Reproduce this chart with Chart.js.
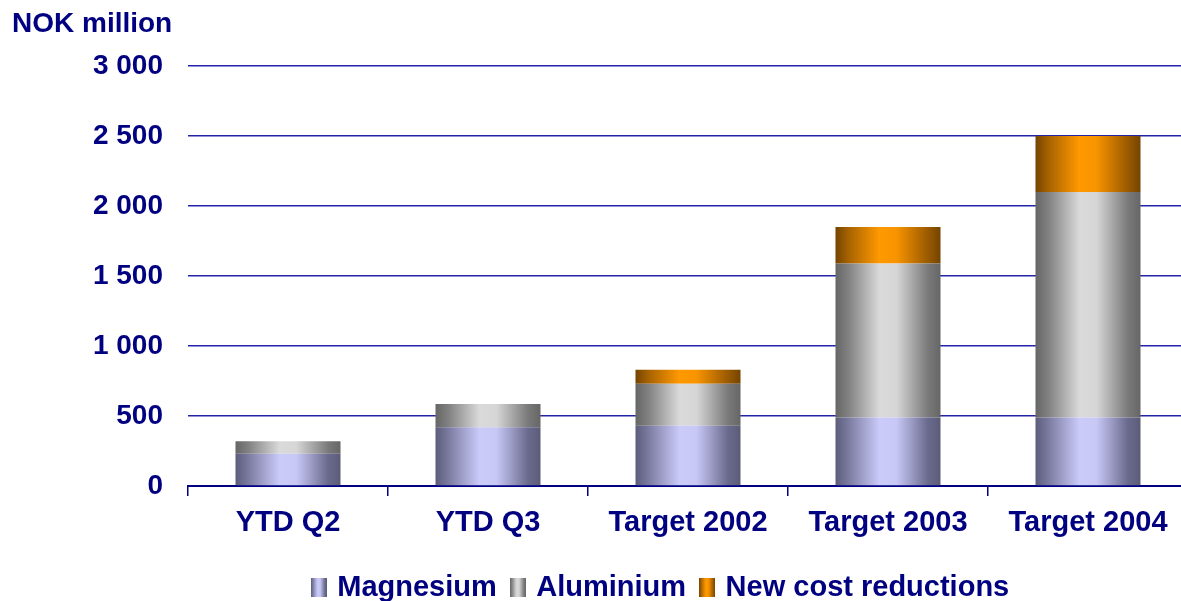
<!DOCTYPE html>
<html>
<head>
<meta charset="utf-8">
<title>Cost reductions</title>
<script src="https://cdn.jsdelivr.net/npm/chart.js@4/dist/chart.umd.min.js"></script>
<style>
    html, body { margin: 0; padding: 0; overflow: hidden; background: #fff; }
    #wrap { position: relative; width: 1312px; height: 612px; }
</style>
</head>
<body>
<div id="wrap"><canvas id="costs"></canvas></div>
<script>
    var categories = ['YTD Q2', 'YTD Q3', 'Target 2002', 'Target 2003', 'Target 2004'];
    var magnesium = [230, 420, 430, 490, 490];
    var aluminium = [90, 165, 300, 1100, 1610];
    var newCost = [0, 0, 100, 260, 400];
    var yTicks = [0, 500, 1000, 1500, 2000, 2500, 3000];

    var NAVY = '#000080';
    var FONT = "'Liberation Sans', Arial, sans-serif";
    var BAR_PCT = 0.525;

    // dark edge -> light middle -> dark edge, like a lit cylinder
    var shades = {
        magnesium: ['#5c5c7a', '#7a7aa0', '#cbcbfa', '#c8c8f6', '#6a6a8e', '#5c5c78'],
        aluminium: ['#666666', '#808080', '#dadada', '#d6d6d6', '#7a7a7a', '#666666'],
        newCost:   ['#744400', '#a66200', '#ff9900', '#f89400', '#9a5a00', '#744400']
    };
    var stopPos = [0, 0.12, 0.42, 0.58, 0.88, 1];

    function addStops(g, cols) {
        for (var i = 0; i < cols.length; i++) g.addColorStop(stopPos[i], cols[i]);
        return g;
    }

    function barFill(cols) {
        return function (ctx) {
            var chart = ctx.chart;
            var x = chart.scales.x;
            if (!x || ctx.dataIndex === undefined || !x.width) return cols[2];
            var mid = x.getPixelForValue(ctx.dataIndex);
            var half = x.width / categories.length * BAR_PCT / 2;
            var g = chart.ctx.createLinearGradient(mid - half, 0, mid + half, 0);
            return addStops(g, cols);
        };
    }

    function legendSwatch(cols) {
        var c = document.createElement('canvas');
        c.width = 16;
        c.height = 19;
        var cx = c.getContext('2d');
        cx.fillStyle = addStops(cx.createLinearGradient(0, 0, 16, 0), cols);
        cx.fillRect(0, 0, 16, 19);
        return c;
    }
    var swatches = [legendSwatch(shades.magnesium), legendSwatch(shades.aluminium), legendSwatch(shades.newCost)];

    function spaced(v) {
        return String(v).replace(/\B(?=(\d{3})+(?!\d))/g, ' ');
    }

    new Chart(document.getElementById('costs'), {
        type: 'bar',
        data: {
            labels: categories,
            datasets: [
                { label: 'Magnesium', data: magnesium, backgroundColor: barFill(shades.magnesium) },
                { label: 'Aluminium', data: aluminium, backgroundColor: barFill(shades.aluminium) },
                { label: 'New cost reductions', data: newCost, backgroundColor: barFill(shades.newCost) }
            ]
        },
        options: {
            responsive: true,
            maintainAspectRatio: false,
            animation: false,
            barPercentage: BAR_PCT,
            categoryPercentage: 1,
            borderWidth: 0,
            layout: { padding: { left: 12, right: 0, top: 0, bottom: 0 } },
            plugins: {
                tooltip: { enabled: false },
                title: {
                    display: true,
                    text: 'NOK million',
                    align: 'start',
                    color: NAVY,
                    font: { family: FONT, size: 28, weight: 'bold' },
                    padding: { top: 7, bottom: 25.4 }
                },
                legend: {
                    position: 'bottom',
                    labels: {
                        usePointStyle: true,
                        pointStyleWidth: 8,
                        padding: 17,
                        color: NAVY,
                        font: { family: FONT, size: 29, weight: 'bold' },
                        generateLabels: function (chart) {
                            var items = Chart.defaults.plugins.legend.labels.generateLabels(chart);
                            items.forEach(function (it, i) { it.pointStyle = swatches[i]; });
                            return items;
                        }
                    }
                }
            },
            scales: {
                x: {
                    stacked: true,
                    grid: { drawOnChartArea: false, drawTicks: true, tickLength: 10, color: NAVY, lineWidth: 1.5 },
                    border: { display: true, color: NAVY, width: 2 },
                    ticks: { color: NAVY, padding: 10, font: { family: FONT, size: 29, weight: 'bold' } },
                    afterFit: function (s) { s.height = 70; }
                },
                y: {
                    stacked: true,
                    min: 0,
                    max: 3000,
                    afterBuildTicks: function (s) { s.ticks = yTicks.map(function (v) { return { value: v }; }); },
                    grid: { drawTicks: false, color: '#2424a8', lineWidth: 1.4 },
                    border: { display: false },
                    ticks: {
                        color: NAVY,
                        padding: 25,
                        font: { family: FONT, size: 28, weight: 'bold' },
                        callback: function (v) { return spaced(v); }
                    },
                    afterFit: function (s) { s.width = 176; }
                },
                spare: {
                    position: 'right',
                    grid: { display: false },
                    border: { display: false },
                    ticks: { display: false },
                    afterFit: function (s) { s.width = 124; }
                }
            }
        }
    });
</script>
</body>
</html>
